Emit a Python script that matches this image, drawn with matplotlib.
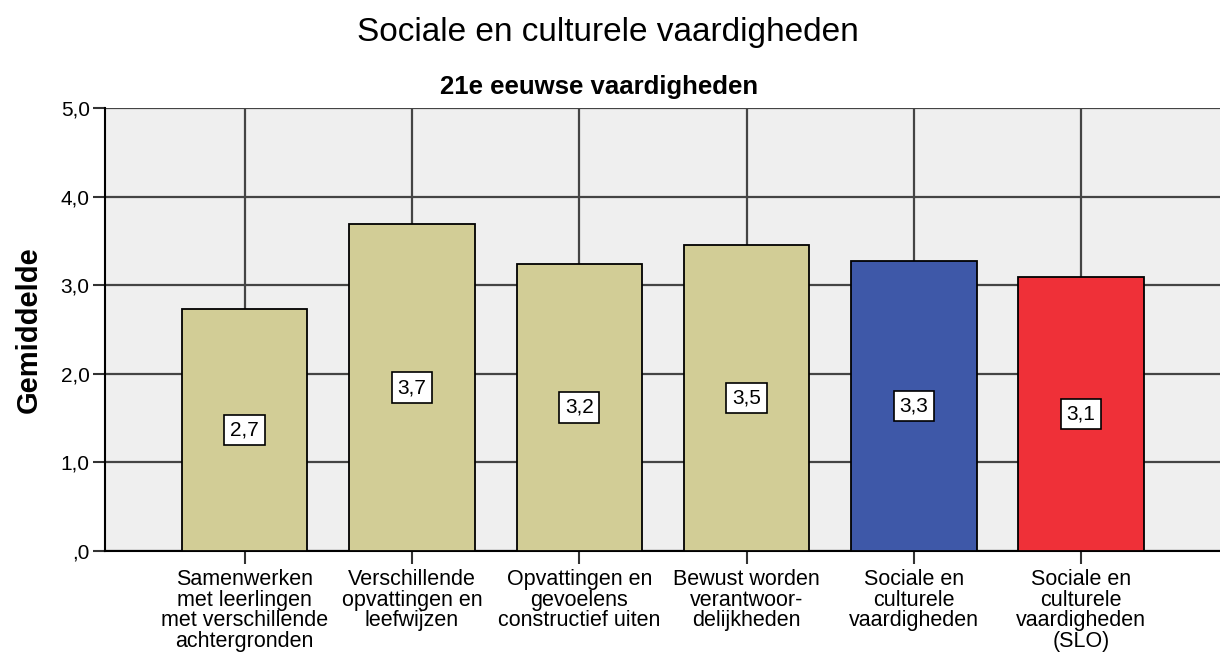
import matplotlib.pyplot as plt

categories = [
    "Samenwerken\nmet leerlingen\nmet verschillende\nachtergronden",
    "Verschillende\nopvattingen en\nleefwijzen",
    "Opvattingen en\ngevoelens\nconstructief uiten",
    "Bewust worden\nverantwoor-\ndelijkheden",
    "Sociale en\nculturele\nvaardigheden",
    "Sociale en\nculturele\nvaardigheden\n(SLO)",
]
means = [2.73, 3.69, 3.24, 3.45, 3.27, 3.09]
bar_labels = ["2,7", "3,7", "3,2", "3,5", "3,3", "3,1"]
colors = ["#d2cd96", "#d2cd96", "#d2cd96", "#d2cd96", "#3e58a8", "#ef3038"]
yticks = [0, 1, 2, 3, 4, 5]
ytick_labels = [",0", "1,0", "2,0", "3,0", "4,0", "5,0"]

plt.rcParams['font.family'] = ['Liberation Sans', 'DejaVu Sans']

fig = plt.figure(figsize=(12.2, 6.52), dpi=100)
ax = fig.add_axes([105 / 1220, 101 / 652, 1 - 105 / 1220, 443 / 652])
ax.set_facecolor('#efefef')

index = list(range(len(means)))
ax.bar(index, means, width=0.75, color=colors, edgecolor='black',
       linewidth=1.3, zorder=3)

for i, (m, lab) in enumerate(zip(means, bar_labels)):
    ax.text(i, m / 2, lab, ha='center', va='center', fontsize=15, zorder=4,
            bbox=dict(boxstyle='square,pad=0.28', fc='white', ec='black', lw=1.2))

ax.set_xlim(-0.835, 5.83)
ax.set_ylim(0, 5)
ax.set_yticks(yticks)
ax.set_yticklabels(ytick_labels, fontsize=15)
ax.set_xticks(index)
ax.set_xticklabels(categories, fontsize=15.5, linespacing=0.98)
ax.tick_params(axis='both', length=9, width=1.5, color='#333333', pad=4)
ax.tick_params(axis='y', pad=2)

ax.grid(True, color='#444444', linewidth=1.6, zorder=0)
ax.set_axisbelow(True)

ax.spines['right'].set_visible(False)
ax.spines['top'].set_visible(False)
ax.spines['left'].set_linewidth(1.5)
ax.spines['bottom'].set_linewidth(1.5)

ax.set_ylabel('Gemiddelde', fontsize=21, fontweight='bold', labelpad=13)
fig.text(599 / 1220, 1 - 87 / 652, '21e eeuwse vaardigheden', ha='center',
         va='center', fontsize=18.5, fontweight='bold')
fig.text(608 / 1220, 1 - 32 / 652, 'Sociale en culturele vaardigheden',
         ha='center', va='center', fontsize=24)

fig.savefig('out.png', dpi=100)
